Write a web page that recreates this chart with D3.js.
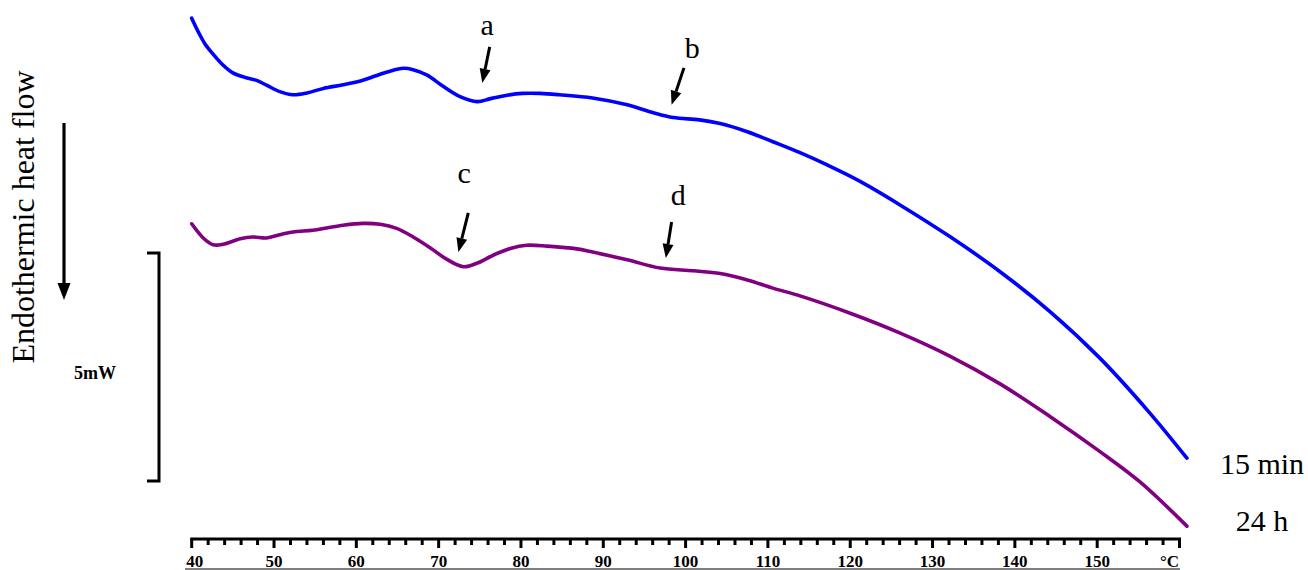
<!DOCTYPE html>
<html>
<head>
<meta charset="utf-8">
<script src="https://cdn.jsdelivr.net/npm/d3@7"></script>
<style>
  html, body { margin: 0; padding: 0; background: #fff; }
  svg { display: block; }
  text { font-family: "Liberation Serif", "Times New Roman", serif; fill: #000; }
</style>
</head>
<body>
<svg id="chart" width="1308" height="570"></svg>
<script>
// DSC traces: temperature (°C) vs heat flow (mW, endotherm down)
const temp15min = [40.0, 40.8, 41.6, 42.6, 43.7, 45.0, 46.5, 47.8, 49.1, 50.7, 52.3, 54.0, 56.0, 58.4, 60.8, 62.9, 64.5, 65.7, 66.9, 68.6, 70.5, 72.6, 74.7, 76.2, 78.3, 80.2, 82.3, 84.7, 88.7, 92.9, 96.0, 98.5, 101.7, 104.2, 107.5, 110.6, 113.9, 117.2, 121.2, 126.0, 132.1, 138.2, 144.3, 150.3, 156.4, 160.9];
const flow15min = [11.40, 11.10, 10.84, 10.61, 10.39, 10.20, 10.10, 10.04, 9.93, 9.79, 9.72, 9.76, 9.86, 9.94, 10.04, 10.17, 10.26, 10.30, 10.27, 10.15, 9.91, 9.68, 9.57, 9.63, 9.71, 9.75, 9.75, 9.72, 9.65, 9.50, 9.33, 9.22, 9.17, 9.09, 8.91, 8.69, 8.45, 8.18, 7.82, 7.31, 6.61, 5.84, 4.96, 3.95, 2.74, 1.75];

const temp24h = [40.0, 41.4, 42.6, 43.8, 45.9, 47.4, 49.1, 50.7, 52.3, 54.7, 56.4, 58.4, 60.8, 62.9, 64.9, 66.9, 69.0, 71.0, 73.0, 74.7, 76.6, 78.7, 80.7, 83.2, 86.8, 88.7, 92.9, 96.9, 100.9, 104.2, 107.5, 110.6, 113.9, 120.0, 126.0, 132.1, 138.2, 144.3, 150.3, 155.2, 160.9];
const flow24h = [6.89, 6.58, 6.43, 6.44, 6.56, 6.60, 6.58, 6.65, 6.71, 6.75, 6.80, 6.86, 6.90, 6.88, 6.79, 6.60, 6.36, 6.11, 5.95, 6.03, 6.20, 6.35, 6.42, 6.40, 6.34, 6.27, 6.10, 5.92, 5.86, 5.80, 5.66, 5.48, 5.31, 4.93, 4.50, 3.99, 3.38, 2.66, 1.90, 1.23, 0.26];

const seriesNames = ["15 min", "24 h"];

// Transition markers: letter, arrow tail/tip and letter anchor in (°C, mW)
const markLetters   = ["a", "b", "c", "d"];
const markTipTemp   = [75.3, 98.3, 72.4, 97.6];
const markTipFlow   = [9.98, 9.50, 6.27, 6.14];
const markTailTemp  = [76.2, 99.8, 73.6, 98.3];
const markTailFlow  = [10.77, 10.31, 7.13, 6.93];
const markTextTemp  = [75.9, 100.8, 73.1, 99.1];
const markTextFlow  = [11.03, 10.53, 7.79, 7.30];

// Temperature axis
const tempDomain = [40, 160];
const tickLabels = ["40", "50", "60", "70", "80", "90", "100", "110", "120", "130", "140", "150"];
const unitLabel = "°C";

// Scale bar
const scaleBarFrom = 1.25, scaleBarSpan = 5, scaleBarLabel = "5mW";
const yTitle = "Endothermic heat flow";

const svg = d3.select("#chart");
const x = d3.scaleLinear().domain(tempDomain).range([191.7, 1179.5]);
const y = d3.scaleLinear().domain([0, 5]).range([538, 310]);

const line = d3.line()
  .x(d => x(d[0]))
  .y(d => y(d[1]))
  .curve(d3.curveCatmullRom.alpha(0.5));

const traces = [
  { name: seriesNames[0], pts: d3.zip(temp15min, flow15min), color: "#0000ff" },
  { name: seriesNames[1], pts: d3.zip(temp24h, flow24h), color: "#800080" }
];

svg.selectAll("path.trace").data(traces).join("path")
  .attr("class", "trace")
  .attr("d", d => line(d.pts))
  .attr("fill", "none")
  .attr("stroke", d => d.color)
  .attr("stroke-width", 3.6)
  .attr("stroke-linejoin", "round")
  .attr("stroke-linecap", "round");

// Series labels beside the trace ends
svg.selectAll("text.series").data(traces).join("text")
  .attr("class", "series")
  .attr("x", 1262)
  .attr("y", (d, i) => i === 0 ? 474 : 531)
  .attr("text-anchor", "middle")
  .attr("font-size", 30)
  .text(d => d.name);

// Arrows with letters
function arrow(g, x1, y1, x2, y2, head, width, sw) {
  const ang = Math.atan2(y2 - y1, x2 - x1);
  const bx = x2 - head * Math.cos(ang), by = y2 - head * Math.sin(ang);
  g.append("line").attr("x1", x1).attr("y1", y1).attr("x2", bx).attr("y2", by)
    .attr("stroke", "#000").attr("stroke-width", sw);
  const px = -Math.sin(ang) * width / 2, py = Math.cos(ang) * width / 2;
  g.append("path")
    .attr("d", `M${x2},${y2}L${bx + px},${by + py}L${bx - px},${by - py}Z`)
    .attr("fill", "#000");
}

const marks = markLetters.map((l, i) => ({
  l, tip: [markTipTemp[i], markTipFlow[i]], tail: [markTailTemp[i], markTailFlow[i]], txt: [markTextTemp[i], markTextFlow[i]]
}));
const mg = svg.append("g");
marks.forEach(m => {
  arrow(mg, x(m.tail[0]), y(m.tail[1]), x(m.tip[0]), y(m.tip[1]), 14, 11, 3);
  mg.append("text").attr("x", x(m.txt[0])).attr("y", y(m.txt[1]))
    .attr("text-anchor", "middle").attr("font-size", 30).text(m.l);
});

// Y title and endotherm-direction arrow
svg.append("text")
  .attr("transform", "translate(34,217) rotate(-90)")
  .attr("text-anchor", "middle")
  .attr("font-size", 32)
  .text(yTitle);
arrow(svg.append("g"), 64, 123, 64, 300, 17, 13, 3.2);

// 5 mW scale bar
const sb = svg.append("g");
const sbTop = y(scaleBarFrom + scaleBarSpan), sbBot = y(scaleBarFrom);
sb.append("path")
  .attr("d", `M147,${sbTop}H159V${sbBot}H147`)
  .attr("fill", "none").attr("stroke", "#000").attr("stroke-width", 3);
sb.append("text").attr("x", 95).attr("y", 379).attr("text-anchor", "middle")
  .attr("font-size", 18).attr("font-weight", "bold").text(scaleBarLabel);

// Temperature axis
const ax = svg.append("g");
const axY = 539;
ax.append("line").attr("x1", x(40) - 1.5).attr("x2", x(160) + 1.5).attr("y1", axY).attr("y2", axY)
  .attr("stroke", "#000").attr("stroke-width", 3);
const tickVals = d3.range(40, 161, 2);
ax.selectAll("line.tick").data(tickVals).join("line")
  .attr("class", "tick")
  .attr("x1", d => x(d)).attr("x2", d => x(d))
  .attr("y1", axY)
  .attr("y2", d => axY + (d % 10 === 0 || d === 160 ? 9 : 6))
  .attr("stroke", "#000").attr("stroke-width", 3);
ax.selectAll("text.tl").data(tickLabels).join("text")
  .attr("class", "tl")
  .attr("x", (d, i) => x(+d) + (i === 0 ? 3 : 0))
  .attr("y", 566.5)
  .attr("text-anchor", "middle")
  .attr("font-size", 17).attr("font-weight", "bold")
  .text(d => d);
ax.append("text").attr("x", 1179).attr("y", 566.5).attr("text-anchor", "end")
  .attr("font-size", 17).attr("font-weight", "bold").text(unitLabel);
ax.append("line").attr("x1", 185).attr("x2", 1180).attr("y1", 569).attr("y2", 569)
  .attr("stroke", "#000").attr("stroke-width", 1);
</script>
</body>
</html>
